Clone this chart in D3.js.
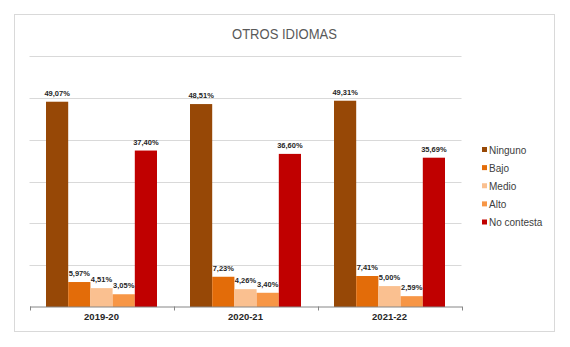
<!DOCTYPE html>
<html>
<head>
<meta charset="utf-8">
<script src="https://cdn.jsdelivr.net/npm/d3@7"></script>
<style>
  html, body { margin: 0; padding: 0; background: #fff; }
  svg { display: block; }
  text { font-family: "Liberation Sans", Arial, sans-serif; }
</style>
</head>
<body>
<svg id="chart" width="570" height="347"></svg>
<script>
// Academic years on the x axis
const years = ["2019-20", "2020-21", "2021-22"];
// Level of knowledge of other languages (legend order)
const levels = ["Ninguno", "Bajo", "Medio", "Alto", "No contesta"];
// Percentages per level, one value per year
const ninguno    = [49.07, 48.51, 49.31];
const bajo       = [5.97, 7.23, 7.41];
const medio      = [4.51, 4.26, 5.00];
const alto       = [3.05, 3.40, 2.59];
const noContesta = [37.40, 36.60, 35.69];
const levelColors = ["#974806", "#E36C09", "#FAC090", "#F79646", "#C00000"];
const yTicks = [0, 10, 20, 30, 40, 50, 60];

const seriesValues = [ninguno, bajo, medio, alto, noContesta];
const rows = years.map((y, i) => ({
  year: y,
  values: levels.map((lv, j) => ({ level: lv, value: seriesValues[j][i] }))
}));

const svg = d3.select("#chart");

// outer frame
svg.append("rect")
  .attr("x", 14.5).attr("y", 14.5)
  .attr("width", 540).attr("height", 317)
  .attr("fill", "#fff").attr("stroke", "#d9d9d9");

// title
svg.append("text")
  .attr("x", 284.5).attr("y", 38.5)
  .attr("text-anchor", "middle")
  .attr("font-size", 14)
  .attr("textLength", 105).attr("lengthAdjust", "spacingAndGlyphs")
  .attr("fill", "#595959")
  .text("OTROS IDIOMAS");

const plot = { left: 29.5, right: 461.5, top: 56, bottom: 307 };

const x0 = d3.scaleBand().domain(years)
  .range([plot.left, plot.right]).paddingInner(0).paddingOuter(0);
const x1 = d3.scaleBand().domain(levels)
  .range([16.5, x0.bandwidth() - 16.5]);
const y = d3.scaleLinear().domain([0, 60]).range([plot.bottom, plot.top]);
const color = d3.scaleOrdinal().domain(levels).range(levelColors);

// horizontal gridlines
svg.append("g")
  .selectAll("line")
  .data(yTicks.filter(t => t > 0))
  .join("line")
  .attr("x1", plot.left).attr("x2", plot.right)
  .attr("y1", d => Math.round(y(d)) + 0.5)
  .attr("y2", d => Math.round(y(d)) + 0.5)
  .attr("stroke", "#d9d9d9");

// bars
const groups = svg.append("g")
  .selectAll("g")
  .data(rows)
  .join("g")
  .attr("transform", d => `translate(${x0(d.year)},0)`);

groups.selectAll("rect")
  .data(d => d.values)
  .join("rect")
  .attr("x", d => x1(d.level))
  .attr("width", x1.bandwidth())
  .attr("y", d => y(d.value))
  .attr("height", d => y(0) - y(d.value))
  .attr("fill", d => color(d.level));

// value labels
const fmt = v => v.toFixed(2).replace(".", ",") + "%";
groups.selectAll("text")
  .data(d => d.values)
  .join("text")
  .attr("x", d => x1(d.level) + x1.bandwidth() / 2)
  .attr("y", d => y(d.value) - 6)
  .attr("text-anchor", "middle")
  .attr("font-size", 7.5)
  .attr("font-weight", "bold")
  .attr("fill", "#262626")
  .text(d => fmt(d.value));

// category axis
const xAxis = d3.axisBottom(x0).tickSize(0).tickPadding(7);
const axisG = svg.append("g")
  .attr("transform", `translate(0,${plot.bottom - 0.5})`)
  .call(xAxis);
axisG.select(".domain").attr("stroke", "#868686");
axisG.selectAll(".tick text")
  .attr("font-size", 9.5)
  .attr("font-weight", "bold")
  .attr("fill", "#262626")
  .attr("font-family", "'Liberation Sans', Arial, sans-serif");
// tick marks at category boundaries
axisG.append("g")
  .selectAll("line")
  .data(years.map(yr => x0(yr)).concat([plot.right]))
  .join("line")
  .attr("x1", d => Math.round(d) + 0.5).attr("x2", d => Math.round(d) + 0.5)
  .attr("y1", 0).attr("y2", 4)
  .attr("stroke", "#868686");

// legend
const legend = svg.append("g").attr("transform", "translate(482,0)");
const legendY = d3.scalePoint().domain(levels).range([150, 222.5]);
const li = legend.selectAll("g")
  .data(levels)
  .join("g")
  .attr("transform", d => `translate(0,${legendY(d)})`);
li.append("rect")
  .attr("x", 0).attr("y", -3)
  .attr("width", 5).attr("height", 5)
  .attr("fill", d => color(d));
li.append("text")
  .attr("x", 7).attr("y", 3.5)
  .attr("font-size", 10)
  .attr("fill", "#404040")
  .text(d => d);
</script>
</body>
</html>
